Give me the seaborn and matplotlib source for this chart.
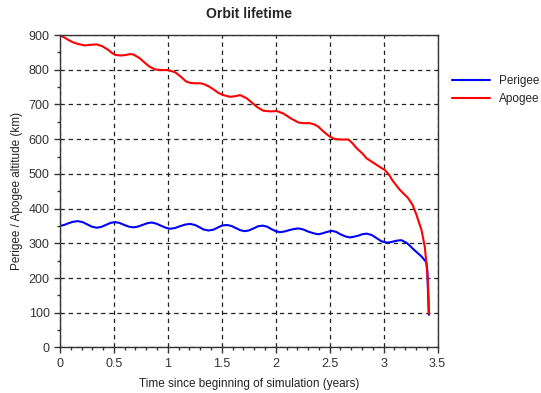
import pandas as pd
import seaborn as sns
import matplotlib.pyplot as plt
from matplotlib.ticker import MultipleLocator, StrMethodFormatter

# Perigee altitude (years, km)
perigee_t = [0, 0.04, 0.08, 0.12, 0.164, 0.21, 0.25, 0.295, 0.34, 0.38, 0.425, 0.47,
             0.51, 0.55, 0.595, 0.64, 0.68, 0.72, 0.765, 0.81, 0.85, 0.89, 0.935, 0.98,
             1.02, 1.065, 1.11, 1.16, 1.205, 1.25, 1.29, 1.33, 1.375, 1.42, 1.46, 1.50,
             1.545, 1.59, 1.63, 1.67, 1.71, 1.75, 1.795, 1.835, 1.878, 1.92, 1.96, 2.0,
             2.039, 2.08, 2.125, 2.165, 2.209, 2.255, 2.30, 2.35, 2.394, 2.425, 2.456,
             2.49, 2.518, 2.56, 2.60, 2.645, 2.688, 2.725, 2.765, 2.80, 2.842, 2.89,
             2.935, 2.98, 3.028, 3.06, 3.10, 3.13, 3.167, 3.22, 3.28, 3.352, 3.39,
             3.398, 3.407, 3.41, 3.415, 3.42]
perigee_km = [350, 353, 358, 362, 364, 361, 355, 348, 345, 347, 353, 359,
              361, 359, 353, 348, 346, 348, 353, 358, 360, 357, 351, 345,
              342, 344, 349, 354, 356, 353, 347, 340, 337, 339, 345, 351,
              353, 350, 344, 338, 335, 337, 343, 349, 351, 348, 341, 335,
              332, 334, 338, 341, 343, 340, 334, 329, 326, 328, 331,
              334, 336, 333, 326, 320, 317, 319, 322, 326, 328, 324,
              315, 306, 302, 303, 306, 308, 309, 300, 282, 262, 248,
              242, 218, 175, 140, 94]

# Apogee altitude (years, km)
apogee_t = [0, 0.04, 0.077, 0.12, 0.17, 0.23, 0.29, 0.34, 0.39, 0.448, 0.48, 0.51,
            0.56, 0.60, 0.65, 0.68, 0.74, 0.79, 0.83, 0.88, 0.94, 1.0, 1.066, 1.12,
            1.17, 1.21, 1.25, 1.30, 1.33, 1.38, 1.42, 1.47, 1.514, 1.576, 1.63, 1.67,
            1.73, 1.78, 1.83, 1.885, 1.95, 2.01, 2.07, 2.14, 2.21, 2.26, 2.318, 2.36,
            2.395, 2.45, 2.503, 2.55, 2.61, 2.673, 2.71, 2.75, 2.80, 2.842, 2.93,
            3.012, 3.05, 3.08, 3.151, 3.228, 3.27, 3.305, 3.352, 3.382, 3.40,
            3.413, 3.42]
apogee_km = [900, 893, 886, 879, 874, 870, 872, 873, 868, 857, 849, 843,
             841, 842, 845, 844, 833, 819, 809, 801, 799, 799, 793, 780,
             766, 762, 761, 761, 759, 752, 744, 733, 727, 722, 724, 727,
             718, 705, 692, 682, 680, 681, 674, 660, 648, 646, 646, 642,
             636, 620, 607, 600, 599, 599, 589, 574, 560, 545, 527,
             511, 498, 482, 454, 430, 410, 382, 338, 290, 233,
             175, 98]

sns.set_theme(style="white")
plt.rcParams['font.family'] = ['Liberation Sans', 'DejaVu Sans']

df = pd.concat([
    pd.DataFrame({'t': perigee_t, 'alt': perigee_km, 'orbit': 'Perigee'}),
    pd.DataFrame({'t': apogee_t, 'alt': apogee_km, 'orbit': 'Apogee'}),
])

fig = plt.figure(figsize=(5.41, 3.93), dpi=100)
ax = fig.add_axes([0.1109, 0.1158, 0.6978, 0.7951])

sns.lineplot(data=df, x='t', y='alt', hue='orbit', estimator=None, sort=False,
             palette={'Perigee': '#0000ff', 'Apogee': '#ff0000'},
             linewidth=1.5, ax=ax)

ax.set_xlim(0, 3.5)
ax.set_ylim(0, 900)
ax.xaxis.set_major_locator(MultipleLocator(0.5))
ax.xaxis.set_minor_locator(MultipleLocator(0.1))
ax.xaxis.set_major_formatter(StrMethodFormatter('{x:g}'))
ax.yaxis.set_major_locator(MultipleLocator(100))
ax.yaxis.set_minor_locator(MultipleLocator(50))

ax.grid(True, which='major', color='#222222', linestyle=(0, (3.5, 3)), linewidth=0.9)
ax.tick_params(which='major', direction='out', length=4, width=1, color='#333333',
               labelsize=9, labelcolor='#333333', bottom=True, left=True)
ax.tick_params(which='minor', direction='out', length=2, width=1, color='#333333',
               bottom=True, left=True)
for side in ['left', 'bottom', 'top', 'right']:
    ax.spines[side].set_color('#333333')
    ax.spines[side].set_linewidth(1)

ax.set_title('Orbit lifetime', fontsize=10, fontweight='bold', pad=12)
ax.set_xlabel('Time since beginning of simulation (years)', fontsize=8.5,
              color='#222222', labelpad=6)
ax.set_ylabel('Perigee / Apogee altitude (km)', fontsize=8.5, color='#222222')

ax.legend(loc='center left', bbox_to_anchor=(1.01, 0.825), frameon=False,
          fontsize=8.5, handlelength=3.2, labelspacing=0.5)

fig.savefig('out.png', dpi=100)
